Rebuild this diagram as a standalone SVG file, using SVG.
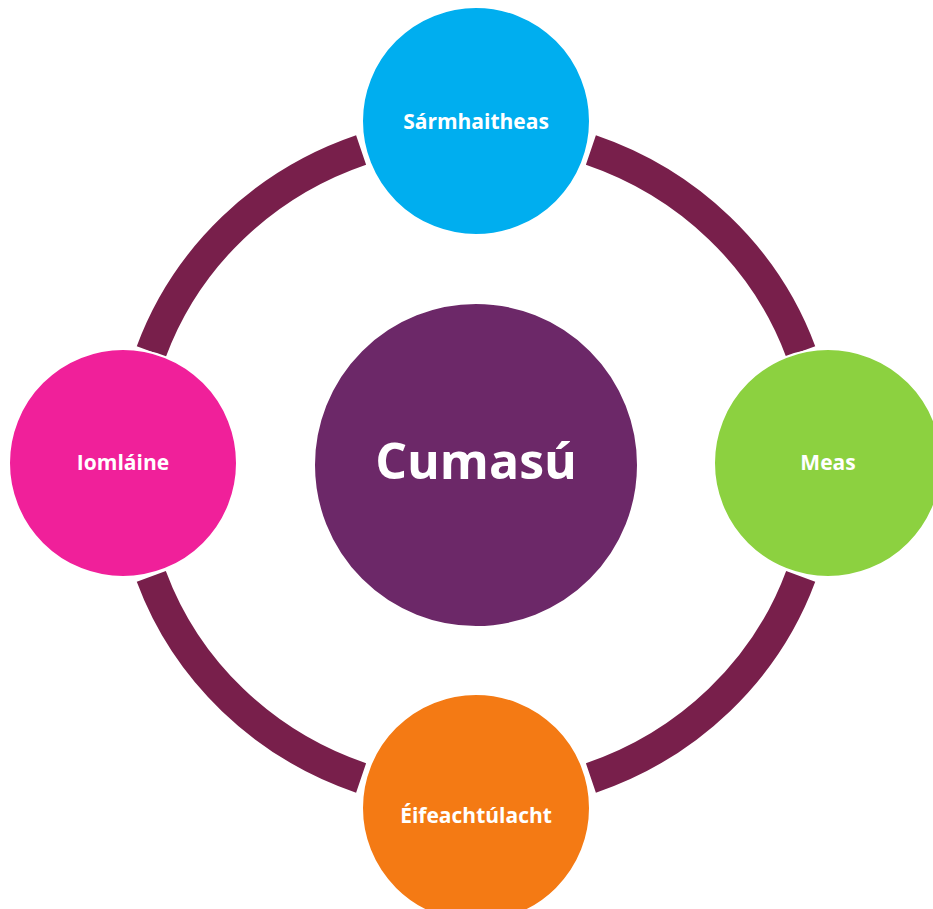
<svg xmlns="http://www.w3.org/2000/svg" width="933" height="909" viewBox="0 0 933 909">
<style>
.ring{fill:none;stroke:#781f4b;stroke-width:31;stroke-linecap:butt}
.node{stroke:#ffffff;stroke-width:2}
.lbl{font-family:"Open Sans","DejaVu Sans",sans-serif;font-weight:bold;fill:#ffffff;text-anchor:middle}
.sm{font-size:21px}
.big{font-size:50px}
</style>
<rect width="933" height="909" fill="#ffffff"/>
<g id="connectors">
<path class="ring" d="M 151.3 351.6 A 345 333 0 0 1 361.1 150.0"/>
<path class="ring" d="M 590.9 150.0 A 345 333 0 0 1 800.7 351.6"/>
<path class="ring" d="M 800.7 576.4 A 345 333 0 0 1 590.9 778.0"/>
<path class="ring" d="M 361.1 778.0 A 345 333 0 0 1 151.3 576.4"/>
</g>
<g id="center">
<circle class="node" cx="476" cy="465" r="162" fill="#6c2868"/>
<text class="lbl big" x="476" y="479">Cumasú</text>
</g>
<g id="top">
<circle class="node" cx="476" cy="121" r="114" fill="#00aeef"/>
<text class="lbl sm" x="476" y="129">Sármhaitheas</text>
</g>
<g id="left">
<circle class="node" cx="123" cy="463" r="114" fill="#f0209a"/>
<text class="lbl sm" x="123" y="470">Iomláine</text>
</g>
<g id="right">
<circle class="node" cx="828" cy="463" r="114" fill="#8cd140"/>
<text class="lbl sm" x="828" y="470">Meas</text>
</g>
<g id="bottom">
<circle class="node" cx="476" cy="808" r="114" fill="#f47a14"/>
<text class="lbl sm" x="476" y="823">Éifeachtúlacht</text>
</g>
</svg>
